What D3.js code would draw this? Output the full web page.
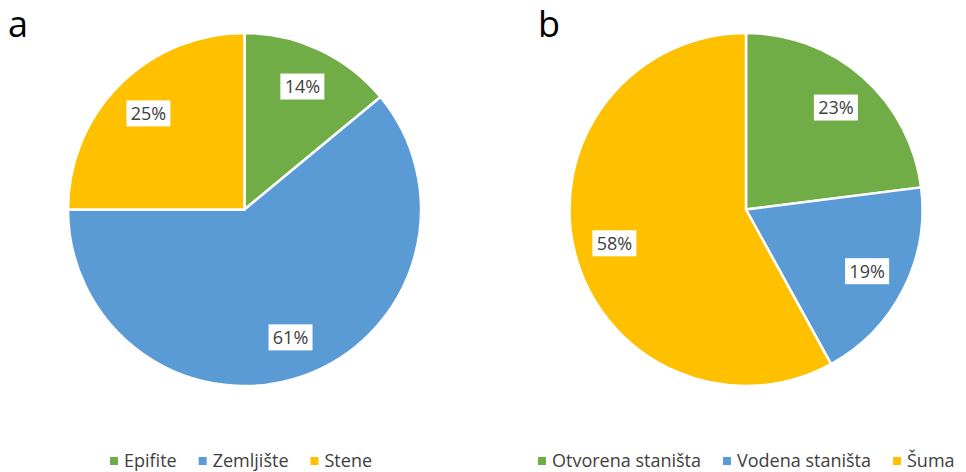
<!DOCTYPE html>
<html>
<head>
<meta charset="utf-8">
<script src="https://cdn.jsdelivr.net/npm/d3@7"></script>
<style>
  body { margin: 0; background: #fff; }
  svg { display: block; font-family: "Open Sans", "Noto Sans", sans-serif; }
</style>
</head>
<body>
<script>
// chart data
var panelLetters = ["a", "b"];
var categoriesA = ["Epifite", "Zemljište", "Stene"];
var valuesA = [14, 61, 25];
var categoriesB = ["Otvorena staništa", "Vodena staništa", "Šuma"];
var valuesB = [23, 19, 58];
var sliceColors = ["#70AD47", "#5B9BD5", "#FFC000"];

var width = 966, height = 472,
    radius = 176.5,
    labelRadiusRatio = 0.77,
    centersX = [244.5, 746],
    centerY = 209.5,
    legendY = 461,
    legendGap = 22;

var svg = d3.select("body").append("svg")
    .attr("width", width)
    .attr("height", height);

var pie = d3.pie().sort(null).value(function(d) { return d; });
var arc = d3.arc().innerRadius(0).outerRadius(radius);
var labelArc = d3.arc().innerRadius(radius * labelRadiusRatio).outerRadius(radius * labelRadiusRatio);
var color = d3.scaleOrdinal().domain([0, 1, 2]).range(sliceColors);

drawPanel(0, categoriesA, valuesA);
drawPanel(1, categoriesB, valuesB);

function drawPanel(p, cats, vals) {
  svg.append("text")
    .attr("x", p == 0 ? 8 : 538)
    .attr("y", 37)
    .attr("font-size", 36)
    .attr("fill", "#000")
    .text(panelLetters[p]);

  var g = svg.append("g").attr("transform", "translate(" + centersX[p] + "," + centerY + ")");
  var arcs = pie(vals);

  g.selectAll("path.slice")
    .data(arcs)
  .enter().append("path")
    .attr("class", "slice")
    .attr("d", arc)
    .attr("fill", function(d, i) { return color(i); })
    .attr("stroke", "#fff")
    .attr("stroke-width", 2.5)
    .attr("stroke-linejoin", "round");

  var labels = g.selectAll("g.lbl")
    .data(arcs)
  .enter().append("g")
    .attr("class", "lbl")
    .attr("transform", function(d) { return "translate(" + labelArc.centroid(d) + ")"; });

  labels.append("rect")
    .attr("x", -22).attr("y", -13)
    .attr("width", 44).attr("height", 26)
    .attr("fill", "#fff");

  labels.append("text")
    .attr("text-anchor", "middle")
    .attr("dy", "0.36em")
    .attr("font-size", 18)
    .attr("fill", "#404040")
    .text(function(d) { return d.data + "%"; });

  // legend row under the pie
  var leg = svg.append("g");
  var x = 0;
  cats.forEach(function(c, i) {
    leg.append("rect")
      .attr("x", x).attr("y", legendY - 4)
      .attr("width", 8).attr("height", 8)
      .attr("fill", color(i));
    var t = leg.append("text")
      .attr("x", x + 14)
      .attr("y", legendY)
      .attr("dy", "0.36em")
      .attr("font-size", 18)
      .attr("fill", "#404040")
      .text(c);
    x += 14 + t.node().getComputedTextLength() + legendGap;
  });
  var startX = p == 0 ? 110 : 538;
  leg.attr("transform", "translate(" + startX + ",0)");
}
</script>
</body>
</html>
